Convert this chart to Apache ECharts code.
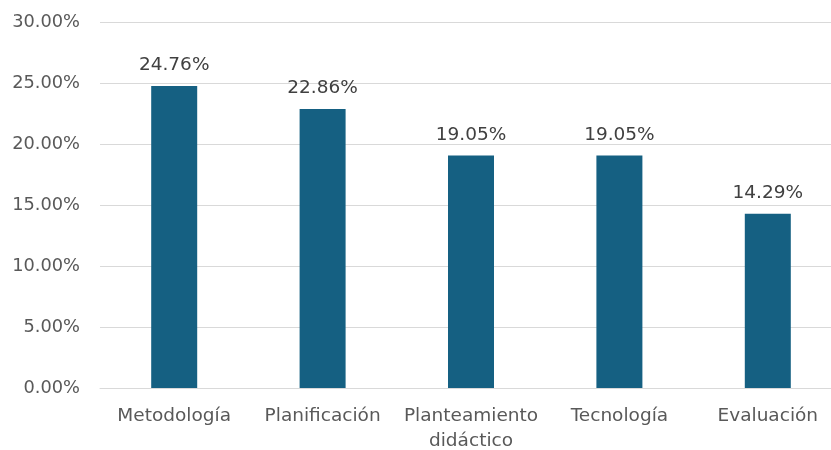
<!DOCTYPE html>
<html><head><meta charset="utf-8">
<script src="https://cdn.jsdelivr.net/npm/echarts@6/dist/echarts.min.js"></script>
<style>html,body{margin:0;padding:0;background:#fff}#c{width:831px;height:450px}</style>
</head><body><div id="c"></div>
<script>
const categories = ['Metodología', 'Planificación', 'Planteamiento\ndidáctico', 'Tecnología', 'Evaluación'];
const values = [24.76, 22.86, 19.05, 19.05, 14.29];
const yTicks = [0, 5, 10, 15, 20, 25, 30];

const chart = echarts.init(document.getElementById('c'), null, {renderer: 'canvas'});
chart.setOption({
  animation: false,
  grid: {left: 100, top: 22, width: 742, height: 366, containLabel: false, outerBoundsMode: 'none'},
  xAxis: {
    type: 'category', data: categories,
    axisLine: {lineStyle: {color: '#d9d9d9', width: 1}},
    axisTick: {show: false},
    axisLabel: {color: '#595959', fontSize: 18.5, fontFamily: 'DejaVu Sans', margin: 16, lineHeight: 25, interval: 0}
  },
  yAxis: {
    type: 'value', min: yTicks[0], max: yTicks[yTicks.length - 1], interval: 5,
    axisLine: {show: false}, axisTick: {show: false},
    splitLine: {lineStyle: {color: '#d9d9d9', width: 1}},
    axisLabel: {color: '#595959', fontSize: 17.8, fontFamily: 'DejaVu Sans', margin: 20,
      formatter: v => v.toFixed(2) + '%'}
  },
  series: [{
    type: 'bar', data: values, barWidth: 46,
    itemStyle: {color: '#156082'},
    label: {show: true, position: 'top', distance: 11, color: '#404040', fontSize: 18.5, fontFamily: 'DejaVu Sans',
      formatter: p => p.value.toFixed(2) + '%'}
  }]
});
</script></body></html>
